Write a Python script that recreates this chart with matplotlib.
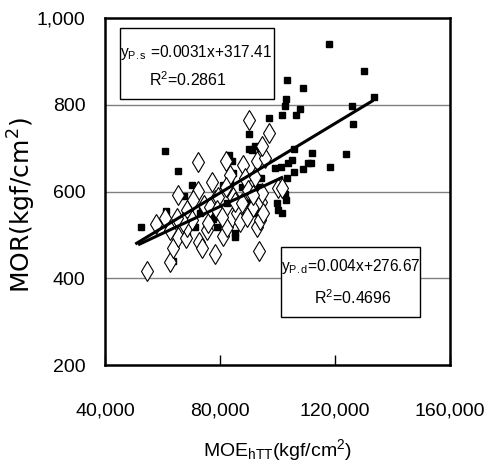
import matplotlib
matplotlib.use('Agg')
import matplotlib.pyplot as plt
from matplotlib.patches import Rectangle
import numpy as np

# zoom-read positions converted to data units
sq_px = [(806,133),(913,215),(943,291),(875,318),(878,372),(858,463),(810,502),
         (680,242),(728,264),(678,297),(676,318),(721,328),(666,345),(709,345),
         (626,356),(568,404),(757,459),(754,490),(745,490),(728,507),(703,516),
         (681,535),(703,449),(697,480),(684,490),(663,500),(645,503),(675,582),
         (678,600),(652,610),(655,630),(666,638),(316,453),(353,513),(318,632),
         (243,681),(338,783),(372,588),(397,556),(395,610),(380,708),(404,682),
         (427,626),(452,650),(460,658),(470,680),(490,555),(508,465),(515,485),
         (520,520),(510,550),(525,710),(528,640),(540,600),(567,448),(575,450),
         (585,440),(600,445),(560,565),(565,610),(570,630),(585,640),(600,600),
         (598,560),(603,533),(545,560),(535,650),(500,610),(480,645),(420,640),
         (440,620),(525,700),(470,600),(590,610)]
di_px = [(262,812),(288,672),(316,655),(330,785),(340,745),(355,585),(355,710),
         (378,715),(380,630),(380,680),(395,660),(413,487),(417,725),(425,745),
         (414,572),(440,690),(445,670),(457,545),(465,763),(465,600),(488,708),
         (475,590),(498,485),(500,680),(515,650),(520,590),(530,640),(540,665),
         (548,495),(555,535),(566,360),(565,570),(580,620),(590,680),(590,485),
         (600,660),(603,605),(605,580),(597,752),(610,640),(615,475),(628,400),
         (605,440),(655,565),(665,565),(560,650),(525,605),(510,525),(497,560),
         (432,615),(400,600),(368,665),(330,690),(350,655),(450,620),(470,630),
         (485,650),(545,610),(578,585),(585,530)]

def to_data(pts):
    xs = [40000 + (p[0] - 135) * 120000 / 1035 for p in pts]
    ys = [1000 - (p[1] - 55) * 800 / 1040 for p in pts]
    return np.array(xs), np.array(ys)

sq_x, sq_y = to_data(sq_px)
di_x, di_y = to_data(di_px)

x_ticks = [40000, 80000, 120000, 160000]
x_ticklabels = ['40,000', '80,000', '120,000', '160,000']
y_ticks = [200, 400, 600, 800, 1000]
y_ticklabels = ['200', '400', '600', '800', '1,000']

plt.rcParams['font.family'] = ['Liberation Sans', 'DejaVu Sans']
plt.rcParams['mathtext.fontset'] = 'custom'
plt.rcParams['mathtext.rm'] = 'Liberation Sans'
plt.rcParams['mathtext.it'] = 'Liberation Sans'

fig = plt.figure(figsize=(4.87, 4.66), dpi=100)
ax = fig.add_axes([0.2156, 0.2167, 0.708, 0.7446])

for yv in [400, 600, 800]:
    ax.axhline(yv, color='#808080', lw=1.0, zorder=0)

ax.plot(sq_x, sq_y, 's', ms=4, color='black', zorder=2)
ax.plot(di_x, di_y, 'd', ms=10, mfc='white', mec='black', mew=0.8, zorder=3)

xl = np.array([52000, 101500])
ax.plot(xl, 0.0031 * xl + 317.41, color='black', lw=2.2, zorder=4)
xl2 = np.array([51000, 133000])
ax.plot(xl2, 0.004 * xl2 + 276.67, color='black', lw=2.2, zorder=4)

ax.set_xlim(40000, 160000)
ax.set_ylim(200, 1000)
ax.set_xticks(x_ticks)
ax.set_xticklabels(x_ticklabels, fontsize=14)
ax.set_yticks(y_ticks)
ax.set_yticklabels(y_ticklabels, fontsize=14)
ax.tick_params(axis='x', direction='in', length=7, width=1, pad=27)
ax.tick_params(axis='y', length=0, pad=14)
for s in ax.spines.values():
    s.set_linewidth(1.8)

# equation boxes
ax.add_patch(Rectangle((0.0435, 0.767), 0.4465, 0.204, transform=ax.transAxes,
                       fc='white', ec='black', lw=1, zorder=5))
ax.add_patch(Rectangle((0.51, 0.138), 0.403, 0.202, transform=ax.transAxes,
                       fc='white', ec='black', lw=1, zorder=5))
ax.text(0.265, 0.902, r'$\mathrm{y_{P{.}s}}$ =0.0031x+317.41', transform=ax.transAxes,
        ha='center', va='center', fontsize=11.2, zorder=6)
ax.text(0.24, 0.822, 'R$^2$=0.2861', transform=ax.transAxes,
        ha='center', va='center', fontsize=11.5, zorder=6)
ax.text(0.712, 0.283, r'$\mathrm{y_{P{.}d}}$=0.004x+276.67', transform=ax.transAxes,
        ha='center', va='center', fontsize=11.2, zorder=6)
ax.text(0.72, 0.193, 'R$^2$=0.4696', transform=ax.transAxes,
        ha='center', va='center', fontsize=11.5, zorder=6)

fig.text(0.045, 0.56, 'MOR(kgf/cm$^2$)', rotation=90, ha='center', va='center',
         fontsize=18, family='DejaVu Sans', math_fontfamily='dejavusans')
fig.text(0.57, 0.035, r'MOE$_{\mathrm{hTT}}$(kgf/cm$^2$)', ha='center', va='center', fontsize=14)

fig.savefig('out.png', dpi=100)
